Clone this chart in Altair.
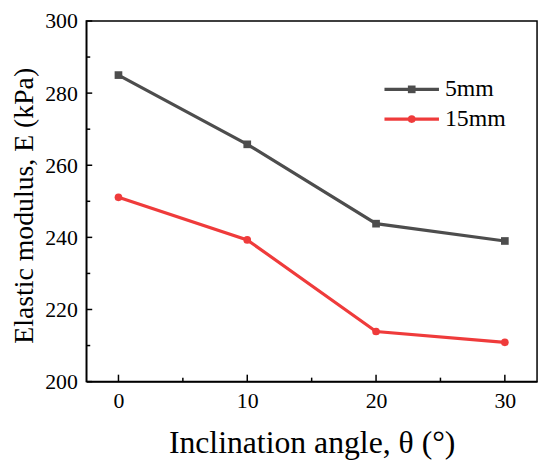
import altair as alt
import pandas as pd

angles = [0, 10, 20, 30]
e_5mm = [285.0, 265.8, 243.8, 239.0]
e_15mm = [251.1, 239.3, 213.9, 210.9]
series = ["5mm", "15mm"]
colors = ["#4d4d4d", "#ef3b3b"]
shapes = ["square", "circle"]
x_ticks = [0, 10, 20, 30]
x_minor = [5, 15, 25]
y_ticks = [200, 220, 240, 260, 280, 300]
y_minor = [210, 230, 250, 270, 290]

W, H = 455, 364
FONT = "Liberation Serif"

rows = []
for s, vals in zip(series, [e_5mm, e_15mm]):
    for a, v in zip(angles, vals):
        rows.append({"angle": a, "E": v, "series": s})
df = pd.DataFrame(rows)

xs = alt.Scale(domain=[-2.5, 32.5], nice=False, zero=False)
ys = alt.Scale(domain=[200, 300], nice=False, zero=False)
color = alt.Color("series:N", scale=alt.Scale(domain=series, range=colors), legend=None)
shape = alt.Shape("series:N", scale=alt.Scale(domain=series, range=shapes), legend=None)

xaxis = alt.Axis(values=x_ticks, title="Inclination angle, θ (°)", ticks=False,
                 labelPadding=9, titlePadding=17, format="d",
                 labelFont=FONT, titleFont=FONT, titleFontSize=32)
yaxis = alt.Axis(values=y_ticks, title="Elastic modulus, E (kPa)", ticks=False,
                 labelPadding=9, titlePadding=6, format="d", titleY=186,
                 labelFont=FONT, titleFont=FONT, titleFontSize=28)

base = alt.Chart(df)
lines = base.mark_line(strokeWidth=3.2).encode(
    x=alt.X("angle:Q", scale=xs, axis=xaxis),
    y=alt.Y("E:Q", scale=ys, axis=yaxis),
    color=color,
    detail="series:N",
)
points = base.mark_point(filled=True, size=60, opacity=1).encode(
    x=alt.X("angle:Q", scale=xs, axis=xaxis),
    y=alt.Y("E:Q", scale=ys, axis=yaxis),
    color=color,
    shape=shape,
)

def xtick_layer(vals, length):
    d = pd.DataFrame({"angle": vals})
    return alt.Chart(d).mark_rule(color="black", strokeWidth=1.5).encode(
        x=alt.X("angle:Q", scale=xs, axis=xaxis),
        y=alt.value(H),
        y2=alt.value(H - length),
    )

def ytick_layer(vals, length):
    d = pd.DataFrame({"E": vals})
    return alt.Chart(d).mark_rule(color="black", strokeWidth=1.5).encode(
        y=alt.Y("E:Q", scale=ys, axis=yaxis),
        x=alt.value(0),
        x2=alt.value(length),
    )

layers = [lines, points,
          xtick_layer(x_ticks, 7), xtick_layer(x_minor, 4),
          ytick_layer(y_ticks, 6), ytick_layer(y_minor, 4)]

for i, s in enumerate(series):
    yy = 69 + 30 * i
    d = pd.DataFrame({"label": [s]})
    c = alt.Chart(d)
    layers.append(c.mark_rule(color=colors[i], strokeWidth=3.2).encode(
        x=alt.value(301), x2=alt.value(356), y=alt.value(yy)))
    layers.append(c.mark_point(filled=True, size=60, opacity=1, color=colors[i]).encode(
        x=alt.value(328.5), y=alt.value(yy), shape=alt.value(shapes[i])))
    layers.append(c.mark_text(font=FONT, fontSize=24, align="left", baseline="middle",
                              color="black").encode(
        x=alt.value(362), y=alt.value(yy), text="label:N"))

chart = alt.layer(*layers).properties(
    width=W, height=H,
    autosize=alt.AutoSizeParams(type="none"),
    padding={"left": 79, "top": 11, "right": 5, "bottom": 77},
).configure_view(
    stroke="black", strokeWidth=1.5
).configure_axis(
    grid=False,
    domainColor="black", domainWidth=1.5,
    labelFont=FONT, labelFontSize=22, labelColor="black",
    titleFont=FONT, titleFontWeight="normal", titleColor="black",
)

chart.save("out.html", embed_options={"renderer": "svg", "actions": False})
